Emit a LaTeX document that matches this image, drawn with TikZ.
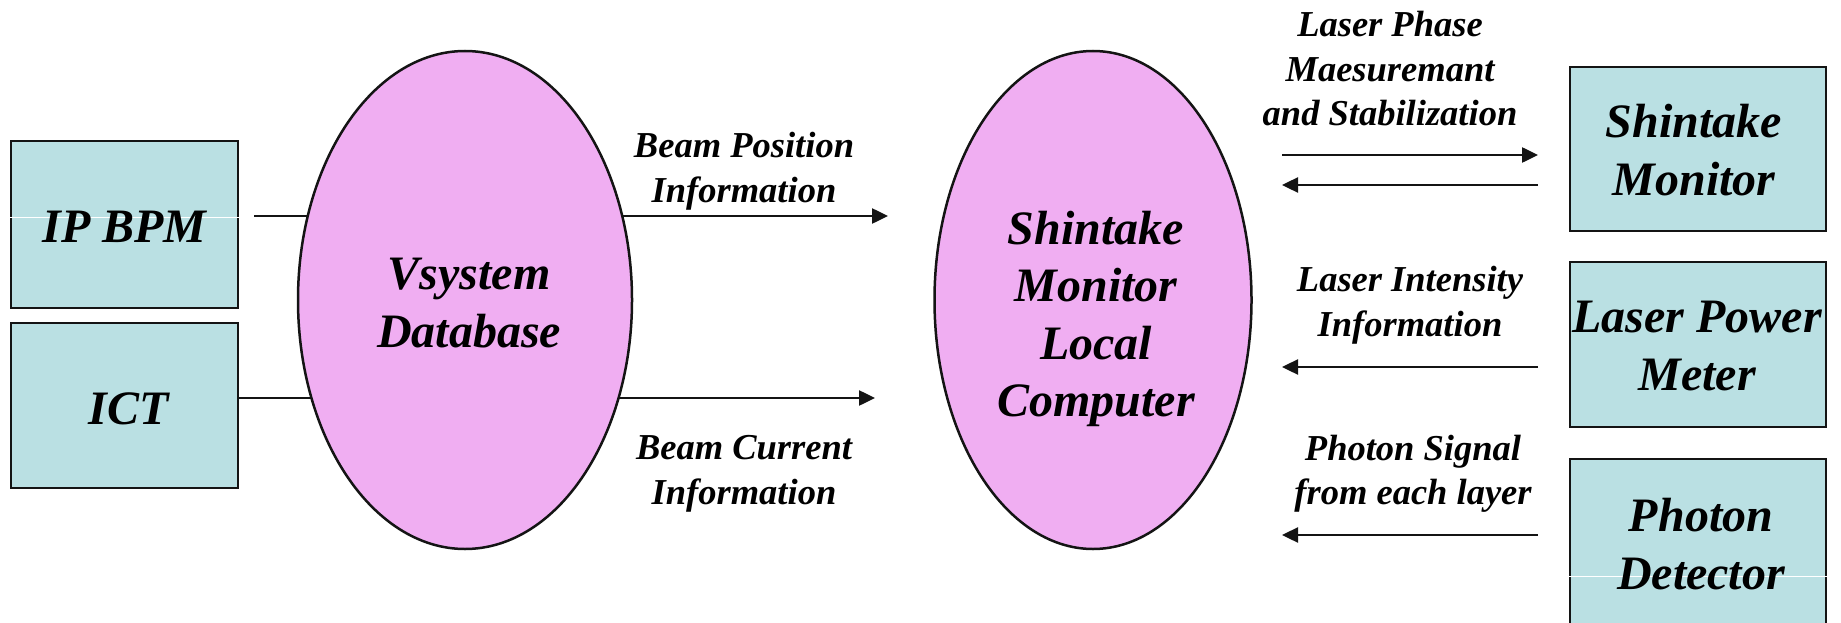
\documentclass[tikz,border=0pt]{standalone}
\usepackage{fontspec}
\setmainfont{Liberation Serif}
\usetikzlibrary{shapes.geometric,arrows.meta,backgrounds}
\definecolor{boxfill}{RGB}{186,224,227}
\definecolor{ovalfill}{RGB}{240,174,242}
\definecolor{edge}{RGB}{20,20,20}
\tikzset{
  bigtext/.style={font=\fontsize{48}{57.6}\selectfont\bfseries\itshape, align=center},
  labeltext/.style={font=\fontsize{36.5}{44.5}\selectfont\bfseries\itshape, align=center, inner sep=0pt},
  devbox/.style={draw=edge, line width=2.5pt, fill=boxfill, rectangle, inner sep=0pt},
  oval/.style={draw=edge, line width=2.5pt, fill=ovalfill, ellipse, inner sep=0pt},
  link/.style={draw=edge, line width=2.5pt},
  flow/.style={link, -{Triangle[length=16pt,width=15pt]}},
  scanline/.style={draw=white, line width=1pt},
}
\begin{document}
\begin{tikzpicture}[x=1pt,y=-1pt]
\useasboundingbox (0,0) rectangle (1841,623);
\clip (0,0) rectangle (1841,623);

% devices on the left
\node[devbox, minimum width=227pt, minimum height=167pt] (ipbpm) at (124.5,224.5) {};
\node[devbox, minimum width=227pt, minimum height=165pt] (ict) at (124.5,405.5) {};
\coordinate (ipbpm-row) at (0,217);
\draw[scanline] (ipbpm.west |- ipbpm-row) -- (ipbpm.east |- ipbpm-row);
\node[bigtext] (ipbpm-t) at (124.5,227) {IP BPM};
\node[bigtext] (ict-t) at (129,409) {ICT};

% devices on the right
\node[devbox, minimum width=256pt, minimum height=164pt] (smon) at (1698,149) {};
\node[devbox, minimum width=256pt, minimum height=165pt] (lpm) at (1698,344.5) {};
\node[devbox, minimum width=256pt, minimum height=171pt] (pdet) at (1698,544.5) {};
\coordinate (pdet-row) at (0,576);
\draw[scanline] (pdet.west |- pdet-row) -- (pdet.east |- pdet-row);
\node[bigtext] (smon-t) at (1694,150) {Shintake\\Monitor};
\node[bigtext] (lpm-t) at (1697,346) {Laser Power\\Meter};
\node[bigtext] (pdet-t) at (1701,544) {Photon\\Detector};

% the two computers
\node[oval, minimum width=334pt, minimum height=498pt] (vsys) at (465,300) {};
\node[bigtext] (vsys-t) at (469,303) {Vsystem\\Database};
\node[oval, minimum width=317pt, minimum height=498pt] (slc) at (1093,300) {};
\node[bigtext] (slc-t) at (1096,319) {Shintake\\Monitor\\Local\\Computer};

% connections into and out of the database
\coordinate (bpm-out) at (254,216);
\coordinate (ict-row) at (0,398);
\coordinate (pos-tip) at (888,216);
\coordinate (cur-tip) at (875,398);
\begin{scope}[on background layer]
  \draw[link] (bpm-out) -- (bpm-out -| vsys.center);
  \draw[link] (ict.east |- ict-row) -- (vsys.center |- ict-row);
  \draw[flow] (vsys.center |- pos-tip) -- (pos-tip);
  \draw[flow] (vsys.center |- cur-tip) -- (cur-tip);
\end{scope}

% laser and detector signals
\coordinate (ph-l) at (1282,155);  \coordinate (ph-r) at (1538,155);
\coordinate (st-l) at (1282,185);  \coordinate (st-r) at (1538,185);
\coordinate (in-l) at (1282,367);  \coordinate (in-r) at (1538,367);
\coordinate (sg-l) at (1282,535);  \coordinate (sg-r) at (1538,535);
\draw[flow] (ph-l) -- (ph-r);
\draw[flow] (st-r) -- (st-l);
\draw[flow] (in-r) -- (in-l);
\draw[flow] (sg-r) -- (sg-l);

% labels
\node[labeltext] (pos-lbl) at (744,171) {Beam Position\\Information};
\node[labeltext] (cur-lbl) at (744,474) {Beam Current\\Information};
\node[labeltext] (ph-lbl) at (1390,69) {Laser Phase\\Maesuremant\\and Stabilization};
\node[labeltext] (in-lbl) at (1410,305) {Laser Intensity\\Information};
\node[labeltext] (sg-lbl) at (1413,474) {Photon Signal\\from each layer};
\end{tikzpicture}
\end{document}
